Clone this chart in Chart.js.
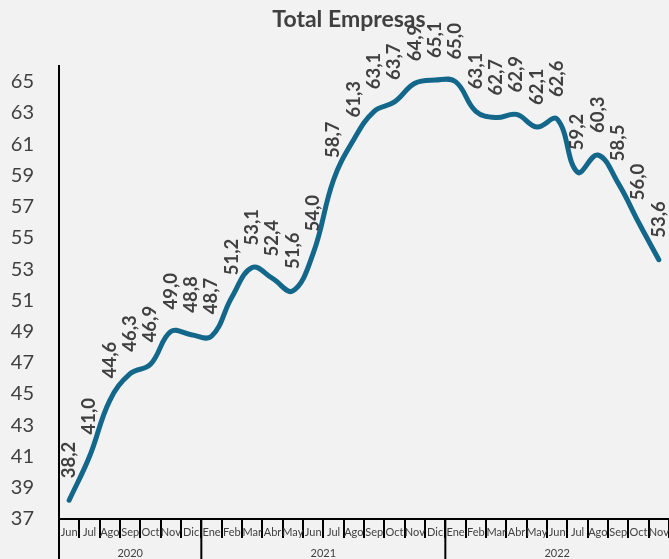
<!DOCTYPE html>
<html>
<head>
<meta charset="utf-8">
<script src="https://cdn.jsdelivr.net/npm/chart.js@4"></script>
<style>
    html, body { margin: 0; padding: 0; background: #f2f2f2; }
    #wrap { width: 669px; height: 559px; }
</style>
</head>
<body>
<div id="wrap"><canvas id="graph" width="669" height="559"></canvas></div>
<script>
// chart data
const title = 'Total Empresas'
const months = ['Jun', 'Jul', 'Ago', 'Sep', 'Oct', 'Nov', 'Dic',
    'Ene', 'Feb', 'Mar', 'Abr', 'May', 'Jun', 'Jul', 'Ago', 'Sep', 'Oct', 'Nov', 'Dic',
    'Ene', 'Feb', 'Mar', 'Abr', 'May', 'Jun', 'Jul', 'Ago', 'Sep', 'Oct', 'Nov']
const yearLabels = ['2020', '2021', '2022']
const monthsPerYear = [7, 12, 11]
const values = [38.2, 41.0, 44.6, 46.3, 46.9, 49.0, 48.8,
    48.7, 51.2, 53.1, 52.4, 51.6, 54.0, 58.7, 61.3, 63.1, 63.7, 64.9, 65.1,
    65.0, 63.1, 62.7, 62.9, 62.1, 62.6, 59.2, 60.3, 58.5, 56.0, 53.6]
const yTicks = [37, 39, 41, 43, 45, 47, 49, 51, 53, 55, 57, 59, 61, 63, 65]

const textColor = '#404040'
const lineColor = '#13678a'

// title, drawn over the plot like the original
const titlePlugin = {
    id: 'titleText',
    afterDraw(chart)
    {
        const ctx = chart.ctx
        ctx.save()
        ctx.font = 'bold 23px Lato'
        ctx.fillStyle = textColor
        ctx.textAlign = 'center'
        ctx.textBaseline = 'alphabetic'
        ctx.fillText(title, 349, 27)
        ctx.restore()
    }
}

// vertical value labels above each point
const valueLabels = {
    id: 'valueLabels',
    afterDatasetsDraw(chart)
    {
        const ctx = chart.ctx
        const meta = chart.getDatasetMeta(0)
        ctx.save()
        ctx.font = 'bold 18.5px Lato'
        ctx.fillStyle = textColor
        ctx.textAlign = 'left'
        ctx.textBaseline = 'middle'
        meta.data.forEach((pt, i) =>
        {
            ctx.save()
            ctx.translate(pt.x, pt.y - 22)
            ctx.rotate(-Math.PI / 2)
            ctx.fillText(values[i].toFixed(1).replace('.', ','), 0, 0)
            ctx.restore()
        })
        ctx.restore()
    }
}

// year row under the month labels
const yearRow = {
    id: 'yearRow',
    afterDraw(chart)
    {
        const ctx = chart.ctx
        const x = chart.scales.x
        const half = (x.getPixelForTick(1) - x.getPixelForTick(0)) / 2
        const top = chart.chartArea.bottom
        ctx.save()
        ctx.strokeStyle = '#000000'
        ctx.lineWidth = 2
        ctx.fillStyle = textColor
        ctx.font = '11px Lato'
        ctx.textAlign = 'center'
        ctx.textBaseline = 'middle'
        let start = 0
        yearLabels.forEach((year, k) =>
        {
            const end = start + monthsPerYear[k] - 1
            const left = x.getPixelForTick(start) - half
            const right = x.getPixelForTick(end) + half
            ctx.beginPath()
            ctx.moveTo(left, top)
            ctx.lineTo(left, chart.height)
            ctx.stroke()
            ctx.fillText(year, (left + right) / 2, 553)
            start = end + 1
        })
        ctx.restore()
    }
}

new Chart(document.querySelector('#graph'),
{
    type: 'line',
    data:
    {
        labels: months,
        datasets:
        [
            {
                data: values,
                borderColor: lineColor,
                borderWidth: 5,
                borderCapStyle: 'round',
                tension: 0.4,
                pointRadius: 0
            }
        ]
    },
    options:
    {
        responsive: false,
        animation: false,
        layout: {padding: {top: 66, right: 0, left: 0, bottom: 0}},
        plugins:
        {
            legend: {display: false},
            tooltip: {enabled: false}
        },
        scales:
        {
            x:
            {
                offset: true,
                grid:
                {
                    offset: true,
                    drawOnChartArea: false,
                    color: '#000000',
                    lineWidth: 2,
                    tickLength: 19
                },
                border: {display: true, color: '#000000', width: 2},
                ticks:
                {
                    autoSkip: false,
                    maxRotation: 0,
                    color: textColor,
                    font: {family: 'Lato', size: 11},
                    padding: -12
                },
                afterFit(scale) { scale.height = 40 }
            },
            y:
            {
                min: 37,
                max: 66,
                grid: {display: false},
                border: {display: true, color: '#000000', width: 2},
                ticks:
                {
                    color: textColor,
                    font: {family: 'Lato', size: 20},
                    padding: 17
                },
                afterBuildTicks(scale) { scale.ticks = yTicks.map(v => ({value: v})) },
                afterFit(scale) { scale.width = 59 }
            }
        }
    },
    plugins: [valueLabels, yearRow, titlePlugin]
})
</script>
</body>
</html>
